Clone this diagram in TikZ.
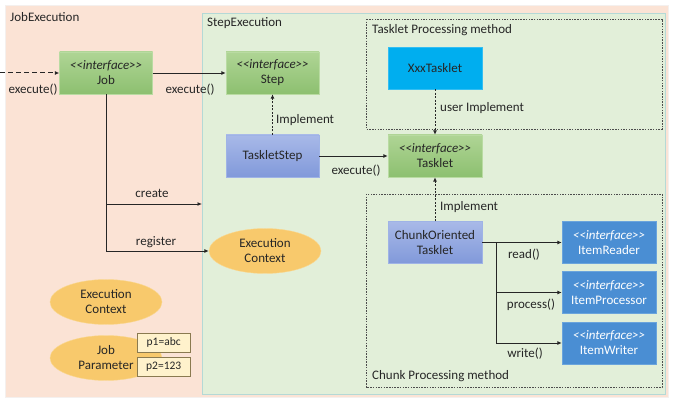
\documentclass[tikz,border=0pt]{standalone}
\usepackage{fontspec}
\setmainfont{Carlito}
\usetikzlibrary{arrows.meta,shapes.geometric}
\definecolor{peach}{HTML}{FBE3D5}
\definecolor{stepbg}{HTML}{E2EFD9}
\definecolor{stepbd}{HTML}{B4D9D6}
\definecolor{gtop}{HTML}{AFD595}
\definecolor{gbot}{HTML}{8DC070}
\definecolor{gbd}{HTML}{B9DBA2}
\definecolor{ptop}{HTML}{A8B9E8}
\definecolor{pbot}{HTML}{8199DA}
\definecolor{pbd}{HTML}{9FB3E6}
\definecolor{itemblue}{HTML}{4A8ED3}
\definecolor{itembd}{HTML}{6AA4DC}
\definecolor{cyanbox}{HTML}{00AEEF}
\definecolor{ell}{HTML}{F8C96C}
\definecolor{ellbd}{HTML}{FAD890}
\definecolor{parambg}{HTML}{FFF2CC}
\definecolor{parambd}{HTML}{8A7A50}
\definecolor{txt}{HTML}{262626}
\newcommand{\ifc}{\textit{<\kern0pt<interface>\kern0pt>}}
\begin{document}
\begin{tikzpicture}[x=1pt,y=-1pt,font=\fontsize{13}{15}\selectfont,text=txt,
  greenbox/.style={draw=gbd,top color=gtop,bottom color=gbot,minimum width=93pt,minimum height=42pt,align=center,inner sep=1pt},
  purplebox/.style={draw=pbd,top color=ptop,bottom color=pbot,minimum width=93pt,minimum height=42pt,align=center,inner sep=1pt},
  bluebox/.style={draw=itembd,fill=itemblue,text=white,minimum width=94pt,minimum height=42pt,align=center,inner sep=1pt},
  ellnode/.style={ellipse,draw=ellbd,fill=ell,minimum width=112pt,minimum height=45pt,align=center,inner sep=0pt},
  parbox/.style={draw=parambd,fill=parambg,minimum width=53pt,minimum height=19pt,inner sep=1pt,font=\fontsize{11.5}{13}\selectfont},
  arr/.style={-{Latex[length=4.5pt,width=4pt]},line width=0.9pt,black!85},
  darr/.style={arr,dash pattern=on 2pt off 1.5pt,line width=1pt},
  dotbox/.style={draw=black!70,dash pattern=on 1.5pt off 1.2pt,line width=0.8pt},
  lbl/.style={inner sep=1pt}]
\useasboundingbox (0,0) rectangle (673,401);
\fill[white] (0,0) rectangle (673,401);
% JobExecution
\path[fill=peach,draw=peach!80!black!20] (5,5) rectangle (668,397);
\node[lbl,anchor=west] (jetitle) at (9,17) {JobExecution};
% StepExecution
\path[fill=stepbg,draw=stepbd,line width=0.8pt] (202,13) rectangle (665,394);
\node[lbl,anchor=west] (setitle) at (206,23) {StepExecution};
% dashed groups
\draw[dotbox] (366,19) rectangle (662,129);
\node[lbl,anchor=west] (tpm) at (371,30) {Tasklet Processing method};
\draw[dotbox] (366,194) rectangle (662,387);
\node[lbl,anchor=west] (cpm) at (371,376) {Chunk Processing method};
% boxes
\node[greenbox] (job) at (106,73) {\ifc\\Job};
\node[greenbox] (step) at (272.5,73) {\ifc\\Step};
\node[purplebox] (tstep) at (272.5,156) {TaskletStep};
\node[draw=cyanbox!80!white,fill=cyanbox,minimum width=94pt,minimum height=42pt,text=black!85] (xxx) at (435,68) {XxxTasklet};
\node[greenbox,minimum width=94pt] (tasklet) at (435,156) {\ifc\\Tasklet};
\node[purplebox,minimum width=94pt] (chunk) at (435,242.5) {ChunkOriented\\Tasklet};
\node[bluebox] (reader) at (609,242.5) {\ifc\\ItemReader};
\node[bluebox] (proc) at (609,292.5) {\ifc\\ItemProcessor};
\node[bluebox] (writer) at (609,343) {\ifc\\ItemWriter};
% ellipses
\node[ellnode] (sec) at (265,251) {Execution\\Context};
\node[ellnode] (jec) at (106,302) {Execution\\Context};
\node[ellnode] (jp) at (106,358) {Job\\Parameter};
\node[parbox,anchor=north west] (p1) at (137,333) {p1=abc};
\node[parbox,anchor=north west] (p2) at (137,357) {p2=123};
% connectors
\coordinate (start) at (0,73);
\draw[darr,dash pattern=on 5pt off 3pt] (start) -- (job.west);
\node[lbl] (ex1) at (33,90) {execute()};
\draw[arr] (job.east) -- (step.west);
\node[lbl] (ex2) at (190,90) {execute()};
\coordinate (create) at (202,204);
\coordinate (jobdown) at (job.south |- create);
\draw[arr] (job.south) -- (jobdown) -- (create);
\node[lbl] (cr) at (152,193) {create};
\draw[arr] (jobdown) |- (sec.west);
\node[lbl] (reg) at (156,242) {register};
\draw[darr] (tstep.north) -- (step.south);
\node[lbl,anchor=west] (imp1) at (275,120) {Implement};
\draw[arr] (tstep.east) -- (tasklet.west);
\node[lbl] (ex3) at (356,171) {execute()};
\draw[darr] (xxx.south) -- (tasklet.north);
\node[lbl,anchor=west] (uimp) at (439,108) {user Implement};
\draw[darr] (chunk.north) -- (tasklet.south);
\node[lbl,anchor=west] (imp2) at (439,207) {Implement};
\coordinate (br) at (496,242.5);
\draw[arr] (chunk.east) -- (reader.west);
\draw[arr] (br) |- (proc.west);
\draw[arr] (br) |- (writer.west);
\node[lbl] (rd) at (524,255) {read()};
\node[lbl] (pr) at (531,305) {process()};
\node[lbl] (wr) at (525,354) {write()};
\end{tikzpicture}
\end{document}
